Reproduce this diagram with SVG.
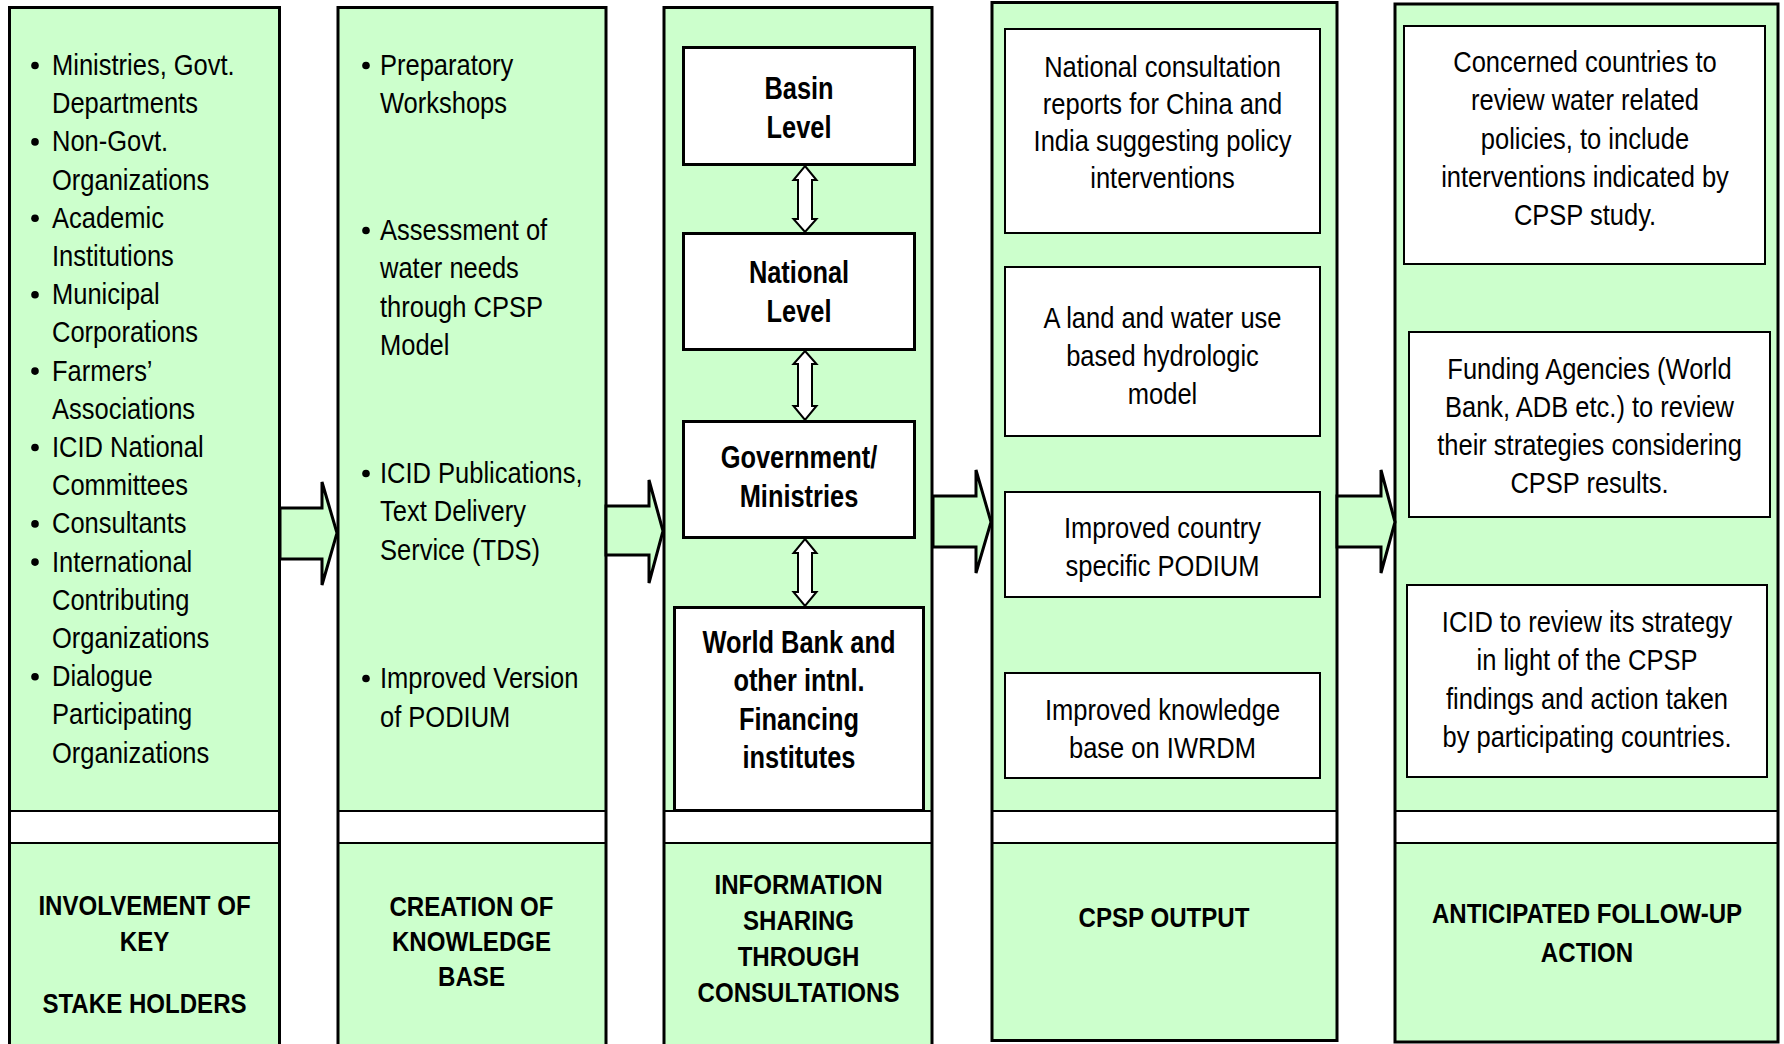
<svg xmlns="http://www.w3.org/2000/svg" width="1784" height="1044" viewBox="0 0 1784 1044">
<style>
.bg{fill:#fff}
.g{fill:#CCFFCC}
.frame{fill:none;stroke:#000;stroke-width:3}
.band{stroke:#000;stroke-width:2}
.box{fill:#fff;stroke:#000;stroke-width:3}
.box2{fill:#fff;stroke:#000;stroke-width:2}
.blk{fill:#CCFFCC;stroke:#000;stroke-width:3;stroke-linejoin:miter}
.dbl{fill:#fff;stroke:#000;stroke-width:2;stroke-linejoin:miter}
.t{font-family:"Liberation Sans",Arial,sans-serif;font-size:30px;fill:#000}
.b{font-family:"Liberation Sans",Arial,sans-serif;font-size:31px;font-weight:bold;fill:#000}
.h{font-family:"Liberation Sans",Arial,sans-serif;font-size:28px;font-weight:bold;fill:#000}
.dot{fill:#000}
</style>
<rect width="1784" height="1044" fill="#fff"/>

<!-- Column 1 -->
<g id="col1">
<rect class="bg" x="9.5" y="7.5" width="270" height="1045"/>
<rect class="g" x="9.5" y="7.5" width="270" height="803"/>
<rect class="g" x="9.5" y="843" width="270" height="210"/>
<line class="band" x1="9.5" y1="811" x2="279.5" y2="811"/>
<line class="band" x1="9.5" y1="843" x2="279.5" y2="843"/>
<rect class="frame" x="9.5" y="7.5" width="270" height="1045"/>
<g class="dot">
<circle cx="35" cy="65.5" r="3.8"/><circle cx="35" cy="141.9" r="3.8"/><circle cx="35" cy="218.3" r="3.8"/><circle cx="35" cy="294.7" r="3.8"/><circle cx="35" cy="371.1" r="3.8"/><circle cx="35" cy="447.5" r="3.8"/><circle cx="35" cy="523.9" r="3.8"/><circle cx="35" cy="562.1" r="3.8"/><circle cx="35" cy="676.7" r="3.8"/>
</g>
<g transform="translate(52 0) scale(0.85 1)">
<text class="t"><tspan x="0" y="75">Ministries, Govt.</tspan><tspan x="0" y="113.2">Departments</tspan><tspan x="0" y="151.4">Non-Govt.</tspan><tspan x="0" y="189.6">Organizations</tspan><tspan x="0" y="227.8">Academic</tspan><tspan x="0" y="266">Institutions</tspan><tspan x="0" y="304.2">Municipal</tspan><tspan x="0" y="342.4">Corporations</tspan><tspan x="0" y="380.6">Farmers’</tspan><tspan x="0" y="418.8">Associations</tspan><tspan x="0" y="457">ICID National</tspan><tspan x="0" y="495.2">Committees</tspan><tspan x="0" y="533.4">Consultants</tspan><tspan x="0" y="571.6">International</tspan><tspan x="0" y="609.8">Contributing</tspan><tspan x="0" y="648">Organizations</tspan><tspan x="0" y="686.2">Dialogue</tspan><tspan x="0" y="724.4">Participating</tspan><tspan x="0" y="762.6">Organizations</tspan></text>
</g>
<g transform="translate(144.5 0) scale(0.86 1)">
<text class="h" text-anchor="middle"><tspan x="0" y="915">INVOLVEMENT OF</tspan><tspan x="0" y="951">KEY</tspan><tspan x="0" y="1013">STAKE HOLDERS</tspan></text>
</g>
</g>

<!-- Column 2 -->
<g id="col2">
<rect class="bg" x="338" y="7.5" width="268" height="1045"/>
<rect class="g" x="338" y="7.5" width="268" height="803"/>
<rect class="g" x="338" y="843" width="268" height="210"/>
<line class="band" x1="338" y1="811" x2="606" y2="811"/>
<line class="band" x1="338" y1="843" x2="606" y2="843"/>
<rect class="frame" x="338" y="7.5" width="268" height="1045"/>
<g class="dot">
<circle cx="366" cy="65.5" r="3.8"/><circle cx="366" cy="230.5" r="3.8"/><circle cx="366" cy="473.5" r="3.8"/><circle cx="366" cy="678.5" r="3.8"/>
</g>
<g transform="translate(380 0) scale(0.85 1)">
<text class="t"><tspan x="0" y="75">Preparatory</tspan><tspan x="0" y="113">Workshops</tspan><tspan x="0" y="240">Assessment of</tspan><tspan x="0" y="278.5">water needs</tspan><tspan x="0" y="317">through CPSP</tspan><tspan x="0" y="355.5">Model</tspan><tspan x="0" y="483">ICID Publications,</tspan><tspan x="0" y="521.5">Text Delivery</tspan><tspan x="0" y="560">Service (TDS)</tspan><tspan x="0" y="688">Improved Version</tspan><tspan x="0" y="727">of PODIUM</tspan></text>
</g>
<g transform="translate(471.5 0) scale(0.86 1)">
<text class="h" text-anchor="middle"><tspan x="0" y="916">CREATION OF</tspan><tspan x="0" y="951">KNOWLEDGE</tspan><tspan x="0" y="986">BASE</tspan></text>
</g>
</g>

<!-- Column 3 -->
<g id="col3">
<rect class="bg" x="664" y="7.5" width="268" height="1045"/>
<rect class="g" x="664" y="7.5" width="268" height="803"/>
<rect class="g" x="664" y="843" width="268" height="210"/>
<line class="band" x1="664" y1="811" x2="932" y2="811"/>
<line class="band" x1="664" y1="843" x2="932" y2="843"/>
<rect class="frame" x="664" y="7.5" width="268" height="1045"/>
<g transform="translate(798.5 0) scale(0.86 1)">
<text class="h" text-anchor="middle"><tspan x="0" y="894">INFORMATION</tspan><tspan x="0" y="930">SHARING</tspan><tspan x="0" y="966">THROUGH</tspan><tspan x="0" y="1002">CONSULTATIONS</tspan></text>
</g>
</g>

<g id="basin">
<rect class="box" x="683.5" y="47.5" width="231" height="117"/>
<g transform="translate(799 0) scale(0.82 1)"><text class="b" text-anchor="middle"><tspan x="0" y="99">Basin</tspan><tspan x="0" y="138">Level</tspan></text></g>
</g>
<g id="national">
<rect class="box" x="683.5" y="233.5" width="231" height="116"/>
<g transform="translate(799 0) scale(0.82 1)"><text class="b" text-anchor="middle"><tspan x="0" y="283">National</tspan><tspan x="0" y="322">Level</tspan></text></g>
</g>
<g id="government">
<rect class="box" x="683.5" y="421.5" width="231" height="116"/>
<g transform="translate(799 0) scale(0.82 1)"><text class="b" text-anchor="middle"><tspan x="0" y="468">Government/</tspan><tspan x="0" y="507">Ministries</tspan></text></g>
</g>
<g id="worldbank">
<rect class="box" x="674.5" y="607.5" width="249" height="203"/>
<g transform="translate(799 0) scale(0.82 1)"><text class="b" text-anchor="middle"><tspan x="0" y="653">World Bank and</tspan><tspan x="0" y="691.5">other intnl.</tspan><tspan x="0" y="730">Financing</tspan><tspan x="0" y="768">institutes</tspan></text></g>
</g>

<!-- Column 4 -->
<g id="col4">
<rect class="bg" x="992" y="2.5" width="345" height="1038"/>
<rect class="g" x="992" y="2.5" width="345" height="808"/>
<rect class="g" x="992" y="843" width="345" height="197"/>
<line class="band" x1="992" y1="811" x2="1337" y2="811"/>
<line class="band" x1="992" y1="843" x2="1337" y2="843"/>
<rect class="frame" x="992" y="2.5" width="345" height="1038"/>
<g transform="translate(1164 0) scale(0.86 1)">
<text class="h" text-anchor="middle"><tspan x="0" y="927">CPSP OUTPUT</tspan></text>
</g>
</g>
<g id="out1">
<rect class="box2" x="1005" y="29" width="315" height="204"/>
<g transform="translate(1162.5 0) scale(0.85 1)"><text class="t" text-anchor="middle"><tspan x="0" y="77">National consultation</tspan><tspan x="0" y="114">reports for China and</tspan><tspan x="0" y="151">India suggesting policy</tspan><tspan x="0" y="188">interventions</tspan></text></g>
</g>
<g id="out2">
<rect class="box2" x="1005" y="267" width="315" height="169"/>
<g transform="translate(1162.5 0) scale(0.85 1)"><text class="t" text-anchor="middle"><tspan x="0" y="328">A land and water use</tspan><tspan x="0" y="366">based hydrologic</tspan><tspan x="0" y="404">model</tspan></text></g>
</g>
<g id="out3">
<rect class="box2" x="1005" y="492" width="315" height="105"/>
<g transform="translate(1162.5 0) scale(0.85 1)"><text class="t" text-anchor="middle"><tspan x="0" y="538">Improved country</tspan><tspan x="0" y="576">specific PODIUM</tspan></text></g>
</g>
<g id="out4">
<rect class="box2" x="1005" y="673" width="315" height="105"/>
<g transform="translate(1162.5 0) scale(0.85 1)"><text class="t" text-anchor="middle"><tspan x="0" y="720">Improved knowledge</tspan><tspan x="0" y="758">base on IWRDM</tspan></text></g>
</g>

<!-- Column 5 -->
<g id="col5">
<rect class="bg" x="1395" y="4" width="383" height="1038"/>
<rect class="g" x="1395" y="4" width="383" height="806.5"/>
<rect class="g" x="1395" y="843" width="383" height="199"/>
<line class="band" x1="1395" y1="811" x2="1778" y2="811"/>
<line class="band" x1="1395" y1="843" x2="1778" y2="843"/>
<rect class="frame" x="1395" y="4" width="383" height="1038"/>
<g transform="translate(1587 0) scale(0.86 1)">
<text class="h" text-anchor="middle"><tspan x="0" y="923">ANTICIPATED FOLLOW-UP</tspan><tspan x="0" y="962">ACTION</tspan></text>
</g>
</g>
<g id="act1">
<rect class="box2" x="1404" y="26" width="361" height="238"/>
<g transform="translate(1585 0) scale(0.85 1)"><text class="t" text-anchor="middle"><tspan x="0" y="72">Concerned countries to</tspan><tspan x="0" y="110.5">review water related</tspan><tspan x="0" y="149">policies, to include</tspan><tspan x="0" y="187">interventions indicated by</tspan><tspan x="0" y="225.5">CPSP study.</tspan></text></g>
</g>
<g id="act2">
<rect class="box2" x="1409" y="332" width="361" height="185"/>
<g transform="translate(1589.5 0) scale(0.85 1)"><text class="t" text-anchor="middle"><tspan x="0" y="379">Funding Agencies (World</tspan><tspan x="0" y="417">Bank, ADB etc.) to review</tspan><tspan x="0" y="455">their strategies considering</tspan><tspan x="0" y="493">CPSP results.</tspan></text></g>
</g>
<g id="act3">
<rect class="box2" x="1407" y="585" width="360" height="192"/>
<g transform="translate(1587 0) scale(0.85 1)"><text class="t" text-anchor="middle"><tspan x="0" y="632">ICID to review its strategy</tspan><tspan x="0" y="670">in light of the CPSP</tspan><tspan x="0" y="709">findings and action taken</tspan><tspan x="0" y="747">by participating countries.</tspan></text></g>
</g>

<!-- Connectors -->
<g id="connectors">
<polygon class="blk" points="280,508 322,508 322,482 337,533 322,585 322,559 280,559"/>
<polygon class="blk" points="606,506 649,506 649,480 663,531 649,583 649,555 606,555"/>
<polygon class="blk" points="933,496 976,496 976,470 991,522 976,573 976,547 933,547"/>
<polygon class="blk" points="1337,496 1381,496 1381,470 1395,522 1381,573 1381,547 1337,547"/>
<polygon class="dbl" points="805,166 816.5,180 812,180 812,219 816.5,219 805,232 793.5,219 798,219 798,180 793.5,180"/>
<polygon class="dbl" points="805,351 816.5,364 812,364 812,406 816.5,406 805,420 793.5,406 798,406 798,364 793.5,364"/>
<polygon class="dbl" points="805,539 816.5,553 812,553 812,592 816.5,592 805,606 793.5,592 798,592 798,553 793.5,553"/>
</g>
</svg>
